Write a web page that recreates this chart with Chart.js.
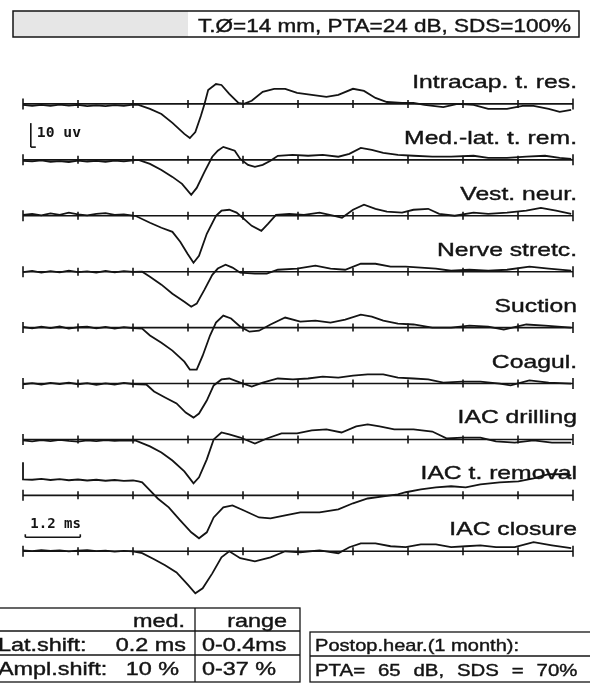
<!DOCTYPE html>
<html>
<head>
<meta charset="utf-8">
<title>ABR monitoring</title>
<script src="https://cdn.jsdelivr.net/npm/chart.js@4.4.0/dist/chart.umd.min.js"></script>
<style>
  body { margin: 0; background: #fff; }
  canvas { display: block; }
</style>
</head>
<body>
<canvas id="abr" width="590" height="683"></canvas>
<script>
// ---- data (time in ms, amplitude in uV) ----
const traceLabels = ['Intracap. t. res.', 'Med.-lat. t. rem.', 'Vest. neur.', 'Nerve stretc.',
  'Suction', 'Coagul.', 'IAC drilling', 'IAC t. removal', 'IAC closure']

const intracapMs = [0,0.2,0.4,0.6,0.8,1.0,1.2,1.4,1.6,1.8,2.0,2.2,2.4,2.52,2.77,3.02,3.26,3.52,3.64,3.76,3.88,3.96,4.04,4.21,4.33,4.5,4.7,4.82,4.99,5.23,5.48,5.72,5.98,6.3,6.62,6.88,7.2,7.44,7.69,7.94,8.27,8.52,8.76,9.17,9.48,9.83,10.15,10.56,10.9,11.14,11.47,11.71,11.96]
const intracapUv = [-0.4,-0.8,-0.4,-0.8,-0.3,-0.7,-0.4,-0.9,-0.6,-0.9,-0.5,-0.8,-0.3,-0.4,-2.1,-4.2,-7.9,-12.5,-14.2,-11.7,-5,0,5.8,8.3,7.9,4.2,0.4,0,1.3,5,6.3,6.3,4.6,3.8,2.9,3.8,6.3,5.4,2.5,0.8,0.4,0.4,-0.4,-1.3,0,-0.4,-2.1,-2.1,-0.8,-0.8,-2.1,-3.3,-2.5]

const medLatMs = [0,0.2,0.4,0.6,0.8,1.0,1.2,1.4,1.6,1.8,2.0,2.2,2.4,2.52,2.77,3.02,3.26,3.47,3.67,3.79,3.96,4.13,4.25,4.37,4.5,4.62,4.74,4.91,5.06,5.23,5.4,5.56,5.88,6.22,6.54,6.88,7.12,7.37,7.61,7.86,8.18,8.52,8.93,9.34,9.83,10.15,10.56,10.98,11.39,11.71,11.96]
const medLatUv = [-0.4,-0.6,-0.2,-0.8,-0.5,-0.9,-0.3,-0.7,-0.4,-0.8,-0.3,-0.6,-0.2,0,-1.7,-4.2,-7.1,-10,-14.6,-11.7,-5,1.3,3.8,5.4,4.6,3.8,0.4,-2.1,-2.9,-2.1,-0.4,1.7,2.1,1.7,2.1,1.3,2.5,5,4.2,2.9,2.1,1.7,1.3,1.3,1.7,0.8,0.8,1.3,1.7,0.8,0.4]

const vestMs = [0,0.2,0.4,0.6,0.8,1.0,1.2,1.4,1.6,1.8,2.0,2.2,2.4,2.45,2.77,3.02,3.26,3.43,3.59,3.72,3.84,4.01,4.21,4.33,4.5,4.66,4.82,4.99,5.2,5.35,5.52,5.81,6.13,6.47,6.79,6.96,7.2,7.44,7.69,7.94,8.27,8.52,8.84,9.08,9.42,9.83,10.15,10.56,10.98,11.3,11.63,11.96]
const vestUv = [0.4,0.8,0.2,1.0,0.4,1.3,0.6,0.2,0.8,1.1,0.4,0.6,0.1,0,-2.9,-5,-6.7,-10.8,-15.8,-19.6,-16.7,-7.5,0,2.1,2.5,1.3,-1.3,-4.2,-6.3,-3.3,0.4,0.8,0.4,1.3,0,-0.8,2.5,4.6,2.9,1.7,1.3,2.5,2.9,0.8,0,1.3,0.8,1.3,2.1,3.3,2.1,0.8]

const nerveMs = [0,0.2,0.4,0.6,0.8,1.0,1.2,1.4,1.6,1.8,2.0,2.2,2.4,2.6,2.77,3.02,3.26,3.52,3.67,3.79,3.96,4.13,4.25,4.42,4.57,4.74,5.06,5.32,5.56,5.98,6.38,6.71,7.03,7.37,7.69,8.02,8.35,8.68,9.01,9.34,9.74,10.15,10.56,11.05,11.47,11.96]
const nerveUv = [-0.2,0.3,-0.4,0.2,-0.3,0.4,-0.2,0.1,-0.4,0.3,-0.3,0.2,-0.1,0,-2.1,-5.4,-9.2,-12.5,-14.6,-13.3,-7.5,-1.3,1.3,2.9,1.7,-0.4,-0.8,-0.8,0.8,1.3,2.5,1.3,0.8,3.3,3.3,2.1,2.1,1.7,1.3,0.4,0.8,0.4,0.8,2.1,1.3,0.4]

const suctionMs = [0,0.2,0.4,0.6,0.8,1.0,1.2,1.4,1.6,1.8,2.0,2.2,2.4,2.6,2.77,3.02,3.26,3.52,3.64,3.79,3.92,4.08,4.21,4.37,4.54,4.74,4.94,5.15,5.4,5.72,6.05,6.38,6.71,7.03,7.37,7.61,7.86,8.18,8.52,8.93,9.34,9.74,10.15,10.49,10.98,11.39,11.96]
const suctionUv = [0.3,-0.3,0.4,-0.2,0.5,-0.4,0.2,0.4,-0.3,0.3,-0.4,0.2,-0.2,-0.4,-3.3,-6.3,-9.6,-14.2,-17.5,-17.5,-11.7,-3.3,2.1,5,3.8,0.4,-1.7,-1.3,1.3,4.2,2.5,2.9,2.1,3.3,5.4,4.6,2.9,1.7,1.3,0,0,0.8,0.4,-0.8,1.3,0.8,0]

const coagMs = [0,0.2,0.4,0.6,0.8,1.0,1.2,1.4,1.6,1.8,2.0,2.2,2.4,2.69,2.86,3.1,3.35,3.55,3.72,3.84,4.01,4.16,4.33,4.5,4.74,4.99,5.23,5.56,5.89,6.22,6.54,6.88,7.2,7.52,7.86,8.18,8.52,8.84,9.17,9.58,9.98,10.4,10.64,11.05,11.47,11.96]
const coagUv = [-0.3,0.2,-0.4,0.3,-0.2,0.4,-0.3,0.2,-0.5,0.1,-0.4,0.3,-0.2,-0.4,-3.3,-5.8,-8.3,-12.1,-14.2,-12.5,-7.1,-0.8,1.7,2.1,0.4,-1.3,0.4,2.1,1.7,2.1,2.9,2.5,3.3,3.8,3.8,2.5,2.1,1.7,0.4,0.8,0.8,0,-0.8,1.3,0.4,0]

const drillMs = [0,0.2,0.4,0.6,0.8,1.0,1.2,1.4,1.6,1.8,2.0,2.2,2.4,2.45,2.77,3.02,3.26,3.52,3.72,3.84,4.01,4.16,4.33,4.5,4.74,5.06,5.32,5.64,5.98,6.3,6.62,6.95,7.27,7.52,7.78,8.1,8.52,8.93,9.25,9.58,9.98,10.32,10.73,11.14,11.54,11.96]
const drillUv = [-0.4,-0.8,-0.3,-0.7,-0.2,-0.6,-0.9,-0.4,-0.7,-0.3,-0.6,-0.4,-0.5,-0.4,-2.9,-5.4,-8.8,-13.3,-18.3,-15.8,-8.3,0,2.9,2.1,0.8,-1.7,0.4,2.5,2.5,3.8,4.2,2.9,5.4,6.3,5.4,4.2,4.2,3.3,0.4,0.8,0.8,-0.8,-1.3,-0.4,-1.3,-1.3]

// first two points = calibration step at the start of this trace
const removalMs = [0,0,0.2,0.4,0.6,0.8,1.0,1.2,1.4,1.6,1.8,2.0,2.2,2.4,2.52,2.6,2.77,2.94,3.18,3.43,3.67,3.84,4.01,4.16,4.37,4.57,4.82,5.15,5.4,5.72,6.05,6.47,6.88,7.2,7.52,7.86,8.18,8.35,8.68,9.01,9.34,9.66,9.98,10.4,10.81,11.14,11.47,11.8,11.96]
const removalUv = [13.8,6.7,6.5,6.9,6.4,6.8,6.3,6.6,6.2,6.5,6.1,6.4,6.0,6.2,5.8,5.4,2.1,-1.3,-5,-10.4,-15.4,-17.9,-15.4,-9.2,-5,-4.2,-6.3,-9.2,-9.6,-8.3,-7.1,-7.1,-5.8,-3.3,-1.3,-0.4,0.4,1.3,2.5,3.3,3.8,3.3,4.6,5.4,5.8,7.1,8.8,8.8,8.3]

const closureMs = [0,0.2,0.4,0.6,0.8,1.0,1.2,1.4,1.6,1.8,2.0,2.2,2.4,2.6,2.86,3.1,3.35,3.59,3.76,3.92,4.13,4.33,4.5,4.74,5.06,5.4,5.72,6.05,6.47,6.88,7.12,7.37,7.69,8.02,8.35,8.68,9.01,9.34,9.66,9.98,10.32,10.73,11.14,11.54,11.96]
const closureUv = [0.4,0.1,0.5,0.2,0.4,0,0.3,0.5,0.1,0.3,-0.1,0.2,0,-0.8,-3.3,-5.8,-8.8,-13.8,-17.5,-15.4,-9.2,-2.5,0,-2.9,-4.2,-2.5,0,-0.4,0.4,-0.8,1.7,3.3,3.3,2.1,1.7,2.9,2.9,1.7,2.1,2.5,1.7,1.7,3.8,2.5,1.3]

const traceMs = [intracapMs, medLatMs, vestMs, nerveMs, suctionMs, coagMs, drillMs, removalMs, closureMs]
const traceUv = [intracapUv, medLatUv, vestUv, nerveUv, suctionUv, coagUv, drillUv, removalUv, closureUv]

const divisionTicksMs = [0, 1.2, 2.4, 3.6, 4.8, 6.0, 7.2, 8.4, 9.6, 10.8, 12.0]

const headerText = 'T.Ø=14 mm, PTA=24 dB, SDS=100%'
const tableHead = ['med.', 'range']
const tableRows = [['Lat.shift:', '0.2 ms', '0-0.4ms'], ['Ampl.shift:', '10 %', '0-37 %']]
const postopLines = ['Postop.hear.(1 month):', 'PTA= 65 dB, SDS = 70%']
const ampBarLabel = '10 uv'
const timeBarLabel = '1.2 ms'

// ---- layout of the stack ----
const firstOffsetUv = -43.3   // baseline of top trace
const stepUv = -23.3          // distance between baselines
const offsets = traceLabels.map((_, i) => firstOffsetUv + i * stepUv)

const ink = '#141414'
const sansFont = '"Liberation Sans", Arial, sans-serif'
const monoFont = '"DejaVu Sans Mono", monospace'

const datasets = traceUv.map((vals, i) => ({
  label: traceLabels[i],
  data: vals.map((v, j) => ({ x: traceMs[i][j], y: v + offsets[i] })),
  borderColor: ink,
  borderWidth: 1.8,
  pointRadius: 0,
  tension: 0,
  fill: false
}))

// text helper: horizontally stretched, slightly heavier (scan look)
function txt(ctx, s, x, y, o) {
  ctx.save()
  ctx.font = (o.weight || 'normal') + ' ' + o.size + 'px ' + (o.family || sansFont)
  ctx.fillStyle = ink
  ctx.strokeStyle = ink
  ctx.lineWidth = 0.4
  ctx.textAlign = o.align || 'left'
  ctx.textBaseline = 'alphabetic'
  if (o.wordSpacing) ctx.wordSpacing = o.wordSpacing
  ctx.translate(x, y)
  ctx.scale(o.sx || 1, 1)
  ctx.fillText(s, 0, 0)
  if (!o.weight) ctx.strokeText(s, 0, 0)
  ctx.restore()
}

function seg(ctx, x1, y1, x2, y2) {
  ctx.beginPath()
  ctx.moveTo(x1, y1)
  ctx.lineTo(x2, y2)
  ctx.stroke()
}

const decor = {
  id: 'decor',
  beforeDatasetsDraw(chart) {
    const ctx = chart.ctx
    const xs = chart.scales.x, ys = chart.scales.y
    ctx.save()
    ctx.strokeStyle = ink
    ctx.lineWidth = 1.6
    offsets.forEach(off => {
      const y = ys.getPixelForValue(off)
      seg(ctx, xs.getPixelForValue(0), y, xs.getPixelForValue(12), y)
      divisionTicksMs.forEach((t, k) => {
        const h = (k === 0 || k === divisionTicksMs.length - 1) ? 5.5 : 4
        const x = xs.getPixelForValue(t)
        seg(ctx, x, y - h, x, y + h)
      })
    })
    ctx.restore()
  },
  afterDatasetsDraw(chart) {
    const ctx = chart.ctx
    const xs = chart.scales.x, ys = chart.scales.y
    const right = xs.getPixelForValue(12) + 4
    ctx.save()
    ctx.strokeStyle = ink

    // trace labels
    traceLabels.forEach((lab, i) => {
      txt(ctx, lab, right, ys.getPixelForValue(offsets[i]) - 16, { size: 19, align: 'right', sx: 1.3 })
    })

    // 10 uV bar
    ctx.lineWidth = 1.6
    const bx = xs.getPixelForValue(0.17)
    const bTop = ys.getPixelForValue(offsets[0] - 8)
    const bBot = ys.getPixelForValue(offsets[0] - 18)
    seg(ctx, bx, bTop, bx, bBot)
    seg(ctx, bx, bBot, bx + 5, bBot)
    txt(ctx, ampBarLabel, bx + 6, bTop + 14, { size: 14, weight: 'bold', family: monoFont, sx: 1.05 })

    // 1.2 ms bar
    const tx0 = xs.getPixelForValue(0.05), tx1 = xs.getPixelForValue(1.25)
    const tY = ys.getPixelForValue(offsets[8]) - 14
    seg(ctx, tx0, tY, tx1, tY)
    seg(ctx, tx0, tY, tx0, tY - 3)
    seg(ctx, tx1, tY, tx1, tY - 3)
    txt(ctx, timeBarLabel, tx0 + 5, tY - 9, { size: 14, weight: 'bold', family: monoFont })

    // header box
    ctx.fillStyle = '#e6e6e6'
    ctx.fillRect(13, 11, 175, 26)
    ctx.lineWidth = 1.5
    ctx.strokeRect(13, 11, 566, 26)
    txt(ctx, headerText, 571, 32, { size: 18, align: 'right', sx: 1.25 })

    // shift table
    ctx.lineWidth = 1.3
    ctx.strokeRect(-2, 608, 302, 74)
    seg(ctx, -2, 631, 300, 631)
    seg(ctx, -2, 655, 300, 655)
    seg(ctx, 195, 608, 195, 682)
    const cell = { size: 18, sx: 1.3 }
    txt(ctx, tableHead[0], 185, 627, { ...cell, align: 'right' })
    txt(ctx, tableHead[1], 287, 627, { ...cell, align: 'right' })
    const valueRight = [186, 179]
    tableRows.forEach((r, i) => {
      const y = 651 + i * 24
      txt(ctx, r[0], -2, y, cell)
      txt(ctx, r[1], valueRight[i], y, { ...cell, align: 'right' })
      txt(ctx, r[2], 202, y, cell)
    })

    // postop box
    ctx.strokeRect(310, 632, 290, 50)
    seg(ctx, 310, 656, 590, 656)
    txt(ctx, postopLines[0], 315, 651, { size: 17, sx: 1.18 })
    txt(ctx, postopLines[1], 315, 676, { size: 17, sx: 1.2, wordSpacing: '6px' })
    ctx.restore()
  }
}

new Chart(document.getElementById('abr'), {
  type: 'line',
  data: { datasets: datasets },
  options: {
    responsive: false,
    animation: false,
    devicePixelRatio: 1,
    layout: { padding: 0 },
    plugins: { legend: { display: false }, tooltip: { enabled: false } },
    scales: {
      x: { type: 'linear', display: false, min: -0.502, max: 12.371 },
      y: { type: 'linear', display: false, min: -284.58, max: 0 }
    }
  },
  plugins: [decor]
})
</script>
</body>
</html>
